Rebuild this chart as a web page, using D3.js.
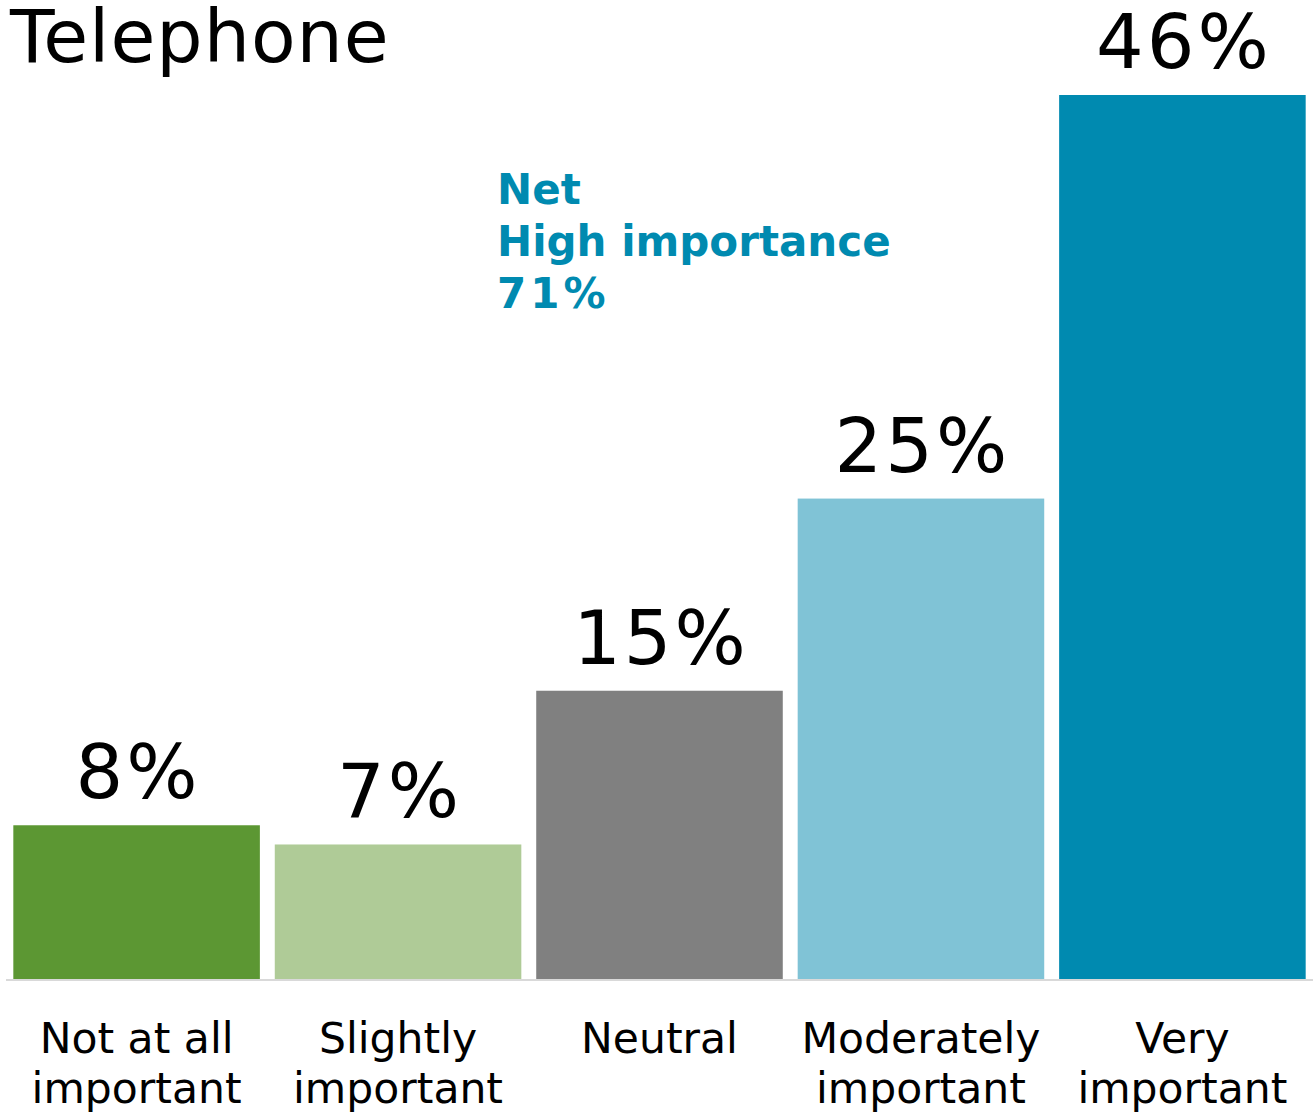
<!DOCTYPE html>
<html>
<head>
<meta charset="utf-8">
<script src="https://cdn.jsdelivr.net/npm/d3@7"></script>
<style>
  html, body { margin: 0; padding: 0; background: #fff; }
  svg { display: block; font-family: "DejaVu Sans", Verdana, sans-serif; }
</style>
</head>
<body>
<svg id="chart" width="1313" height="1115"></svg>
<script>
// Importance ratings for the telephone channel
const categories = [["Not at all", "important"], ["Slightly", "important"], ["Neutral"], ["Moderately", "important"], ["Very", "important"]];
const values = [8, 7, 15, 25, 46];
const colors = ["#5c9733", "#afcb97", "#808080", "#80c3d6", "#008ab0"];
const netLines = ["Net", "High importance", "71%"];

const svg = d3.select("#chart");
const margin = { left: 6, right: 0 };
const width = 1313;
const baseY = 979;

const x = d3.scaleBand()
  .domain(d3.range(values.length))
  .range([margin.left, width - margin.right])
  .paddingInner(0.057)
  .paddingOuter(0.028);

const y = d3.scaleLinear().domain([0, 46]).range([baseY, 95]);

// bars
svg.selectAll("rect.bar")
  .data(values)
  .join("rect")
  .attr("class", "bar")
  .attr("x", (d, i) => x(i))
  .attr("y", d => y(d))
  .attr("width", x.bandwidth())
  .attr("height", d => baseY - y(d))
  .attr("fill", (d, i) => colors[i]);

// baseline
svg.append("line")
  .attr("x1", margin.left).attr("x2", width)
  .attr("y1", baseY + 1).attr("y2", baseY + 1)
  .attr("stroke", "#d9d9d9").attr("stroke-width", 2);

// value labels
const lsVal = 3;
svg.selectAll("text.val")
  .data(values)
  .join("text")
  .attr("class", "val")
  .attr("x", (d, i) => x(i) + x.bandwidth() / 2 + lsVal / 2)
  .attr("y", d => y(d) - 27)
  .attr("text-anchor", "middle")
  .attr("font-size", 75)
  .attr("letter-spacing", lsVal)
  .attr("fill", "#000")
  .text(d => d + "%");

// category labels
const cat = svg.selectAll("text.cat")
  .data(categories)
  .join("text")
  .attr("class", "cat")
  .attr("text-anchor", "middle")
  .attr("font-size", 42.5)
  .attr("fill", "#000");
cat.selectAll("tspan")
  .data((d, i) => d.map(t => ({ t, i })))
  .join("tspan")
  .attr("x", d => x(d.i) + x.bandwidth() / 2)
  .attr("y", (d, j) => 1053 + j * 50)
  .text(d => d.t);

// title
svg.append("text")
  .attr("x", 10).attr("y", 62)
  .attr("font-size", 73)
  .attr("letter-spacing", 1)
  .attr("fill", "#000")
  .text("Telephone");

// net annotation
svg.append("text")
  .attr("font-size", 42)
  .attr("font-weight", "bold")
  .attr("fill", "#008ab0")
  .selectAll("tspan")
  .data(netLines)
  .join("tspan")
  .attr("x", 497)
  .attr("y", (d, i) => 204 + i * 52)
  .attr("letter-spacing", (d, i) => i === 2 ? 4 : 0)
  .text(d => d);
</script>
</body>
</html>
